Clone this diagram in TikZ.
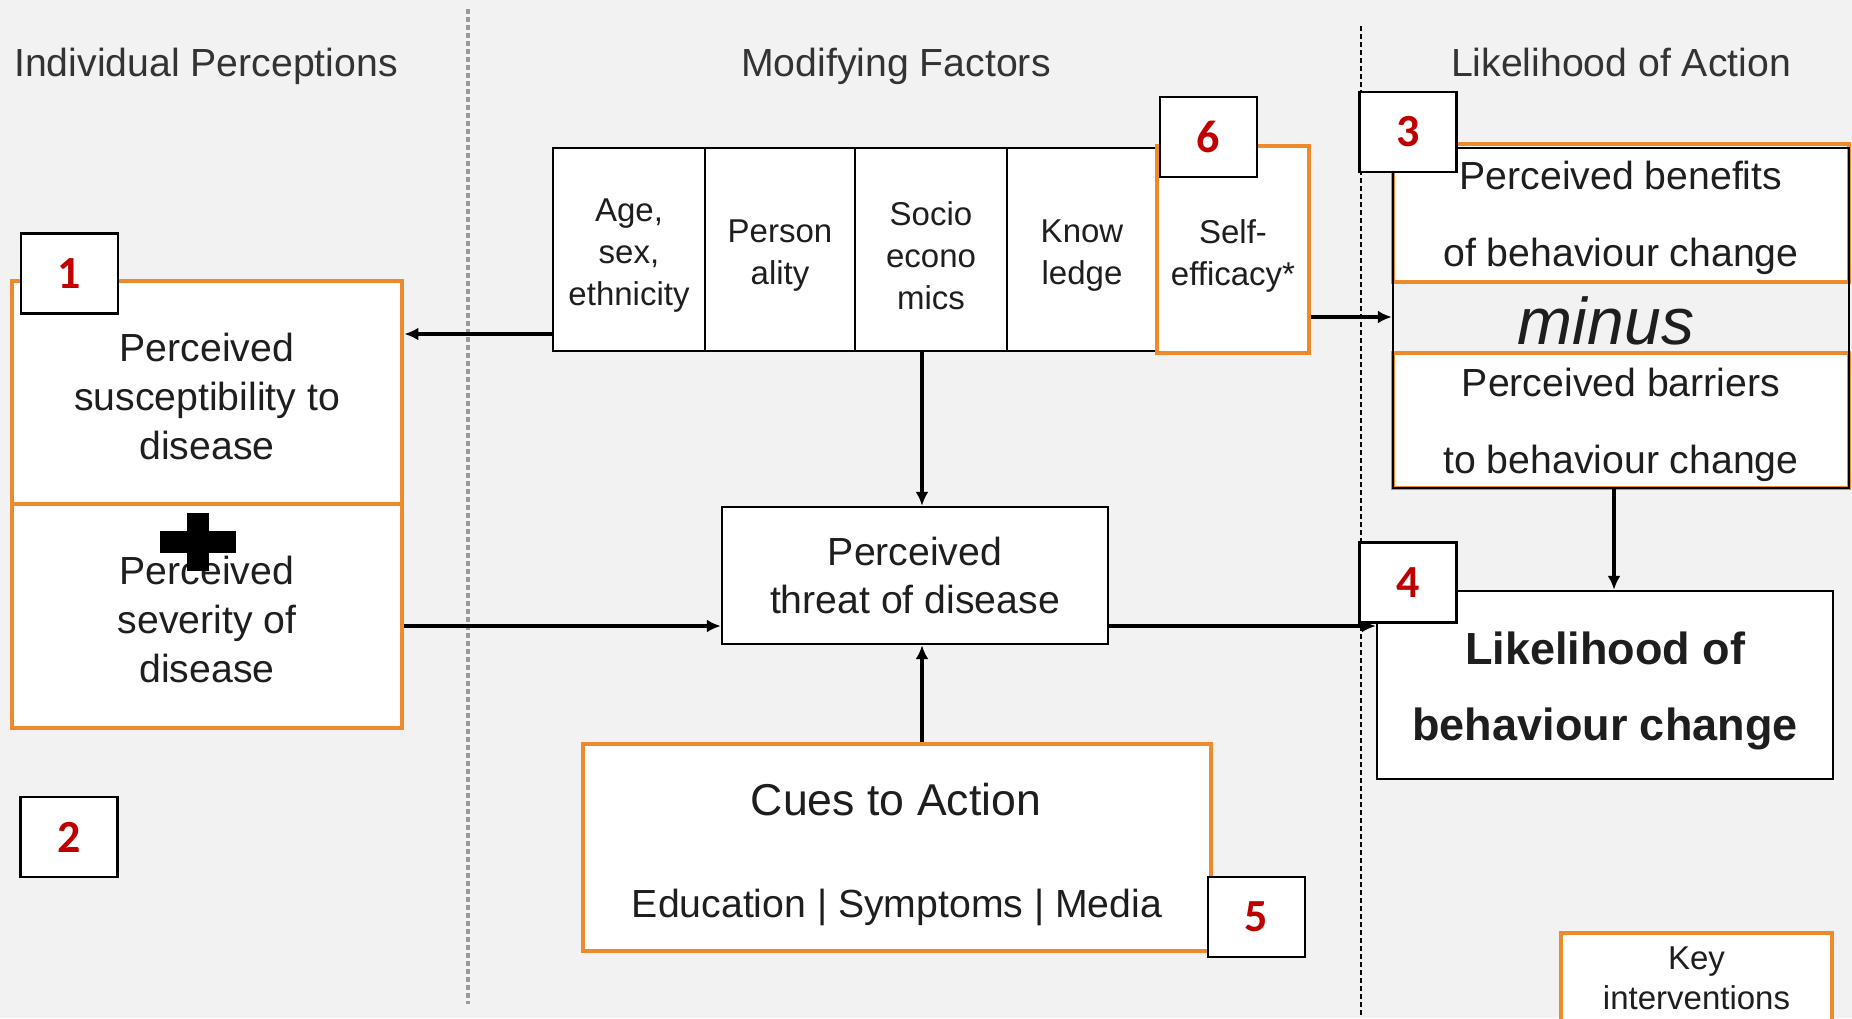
\documentclass[tikz,border=0pt]{standalone}
\usepackage{fontspec}
\setmainfont{Liberation Sans}
\newfontfamily\numfont{Carlito}
\usetikzlibrary{arrows.meta,calc}
\definecolor{bgc}{HTML}{F2F2F2}
\definecolor{org}{RGB}{237,139,44}
\definecolor{nred}{RGB}{192,0,0}
\definecolor{txt}{HTML}{1E1E1E}
\definecolor{ttl}{HTML}{333333}
\definecolor{dashg}{HTML}{9A9A9A}
\newcommand{\fbody}{\fontsize{19.6}{24.3}\selectfont}
\begin{document}
\begin{tikzpicture}[x=0.5pt,y=-0.5pt,
  blackbox/.style={draw=black,line width=1.2pt,fill=white,inner sep=0pt},
  orangebox/.style={draw=org,line width=2.4pt,fill=white,inner sep=0pt},
  boxtext/.style={align=center,text=txt,inner sep=0pt},
  numbox/.style={draw=black,line width=1.2pt,fill=white,minimum width=48.5pt,minimum height=40pt,inner sep=0pt,text=nred,font=\numfont\bfseries\fontsize{23}{23}\selectfont},
  titletext/.style={text=ttl,anchor=base,font=\fontsize{19.6}{24}\selectfont},
  arr/.style={line width=1.9pt,-{Latex[length=7pt,width=6.5pt]}},
  cell/.style={blackbox,minimum height=101.5pt},
  celltext/.style={boxtext,font=\fontsize{16.5}{21}\selectfont}
]
\fill[bgc] (0,0) rectangle (1852,1018);
\clip (0,0) rectangle (1852,1018);

% separators
\coordinate (dla) at (468,9);
\coordinate (dlb) at (468,1004);
\draw[dashg,line width=1.6pt,dash pattern=on 2.5pt off 1.5pt] (dla) -- (dlb);
\coordinate (dra) at (1361,26);
\coordinate (drb) at (1361,1018);
\draw[black,line width=0.8pt,dash pattern=on 2.5pt off 1.5pt] (dra) -- (drb);

% titles
\node[titletext] (t1) at (206,76) {Individual Perceptions};
\node[titletext] (t2) at (896,76) {Modifying Factors};
\node[titletext] (t3) at (1621,76) {Likelihood of Action};

% left boxes
\node[orangebox,minimum width=195pt,minimum height=111.5pt] (susc) at (207,392.5) {};
\node[boxtext,font=\fbody] (susct) at ([yshift=-2pt]susc.center) {Perceived\\susceptibility to\\disease};
\node[orangebox,minimum width=195pt,minimum height=112pt] (sev) at (207,616) {};
\node[boxtext,font=\fbody] (sevt) at ([yshift=-1.75pt]sev.center) {Perceived\\severity of\\disease};
\fill[black] (160,531) rectangle (236,553);
\fill[black] (187,513) rectangle (209,571);

% modifying factors
\node[cell,minimum width=76pt] (age) at (629,249.5) {};
\node[cell,minimum width=75pt] (pers) at (780,249.5) {};
\node[cell,minimum width=76pt] (socio) at (931,249.5) {};
\node[cell,minimum width=75pt] (know) at (1082,249.5) {};
\node[cell,draw=org,line width=2.4pt,minimum width=76pt,minimum height=103.5pt] (self) at (1233,249.5) {};
\node[celltext] (aget) at ([yshift=-3pt]age.center) {Age,\\sex,\\ethnicity};
\node[celltext] (perst) at ([yshift=-3pt]pers.center) {Person\\ality};
\node[celltext] (sociot) at ([yshift=-3pt]socio.center) {Socio\\econo\\mics};
\node[celltext] (knowt) at ([yshift=-3pt]know.center) {Know\\ledge};
\node[celltext] (selft) at ([yshift=-3pt]self.center) {Self-\\efficacy*};

% threat
\node[blackbox,minimum width=193pt,minimum height=68.5pt] (threat) at (915,575.5) {};
\node[boxtext,font=\fbody] (threatt) at (threat.center) {Perceived\\threat of disease};

% cues
\node[orangebox,minimum width=314pt,minimum height=103.5pt] (cues) at (897,847.5) {};
\node[boxtext,font=\fontsize{22.3}{26}\selectfont] (cuest) at (896,800) {Cues to Action};
\node[boxtext,font=\fbody] (cuese) at (897,907) {Education | Symptoms | Media};

% benefits / barriers
\node[orangebox,minimum width=228pt,minimum height=69pt] (ben) at (1621,213) {};
\node[boxtext,font=\fontsize{19.6}{38.5}\selectfont] (bent) at ([yshift=-2.5pt]ben.center) {Perceived benefits\\of behaviour change};
\node[orangebox,minimum width=228pt,minimum height=67.5pt] (bar) at (1621,420.5) {};
\node[boxtext,font=\fontsize{19.6}{38.5}\selectfont] (bart) at ([yshift=-2pt]bar.center) {Perceived barriers\\to behaviour change};
\node[draw=black,line width=1.2pt,minimum width=228pt,minimum height=170pt,inner sep=0pt] (pbb) at (1621,318) {};
\node[boxtext,font=\itshape\fontsize{33}{33}\selectfont] (minus) at (1606,321) {minus};

% likelihood
\node[blackbox,minimum width=228pt,minimum height=94pt] (lik) at (1605,685) {};
\node[boxtext,font=\bfseries\fontsize{22.5}{38}\selectfont] (likt) at ([yshift=-2.75pt]lik.center) {Likelihood of\\behaviour change};

% key
\node[orangebox,line width=2pt,minimum width=135.5pt,minimum height=45pt] (key) at (1696.5,978) {};
\node[boxtext,font=\fontsize{16.5}{20}\selectfont] (keyt) at (key.center) {Key\\interventions};

% arrows
\coordinate (ay1) at (0,334);
\draw[arr] (age.west |- ay1) -- (susc.east |- ay1);
\coordinate (ax1) at (922,0);
\draw[arr] (socio.south -| ax1) -- (threat.north -| ax1);
\draw[arr] (cues.north -| ax1) -- (threat.south -| ax1);
\coordinate (ay2) at (0,626);
\draw[arr] (sev.east |- ay2) -- (threat.west |- ay2);
\draw[arr] (threat.east |- ay2) -- (lik.west |- ay2);
\coordinate (ay3) at (0,317);
\draw[arr] (self.east |- ay3) -- (pbb.west |- ay3);
\coordinate (ax2) at (1614,0);
\draw[arr] (pbb.south -| ax2) -- (lik.north -| ax2);

% number boxes
\node[numbox] (n1) at (69.5,273.5) {1};
\node[numbox] (n2) at (69,837) {2};
\node[numbox] (n3) at (1408,132) {3};
\node[numbox] (n4) at (1408,582.5) {4};
\node[numbox] (n5) at (1256.5,917) {5};
\node[numbox] (n6) at (1208.5,137) {6};
\end{tikzpicture}
\end{document}
